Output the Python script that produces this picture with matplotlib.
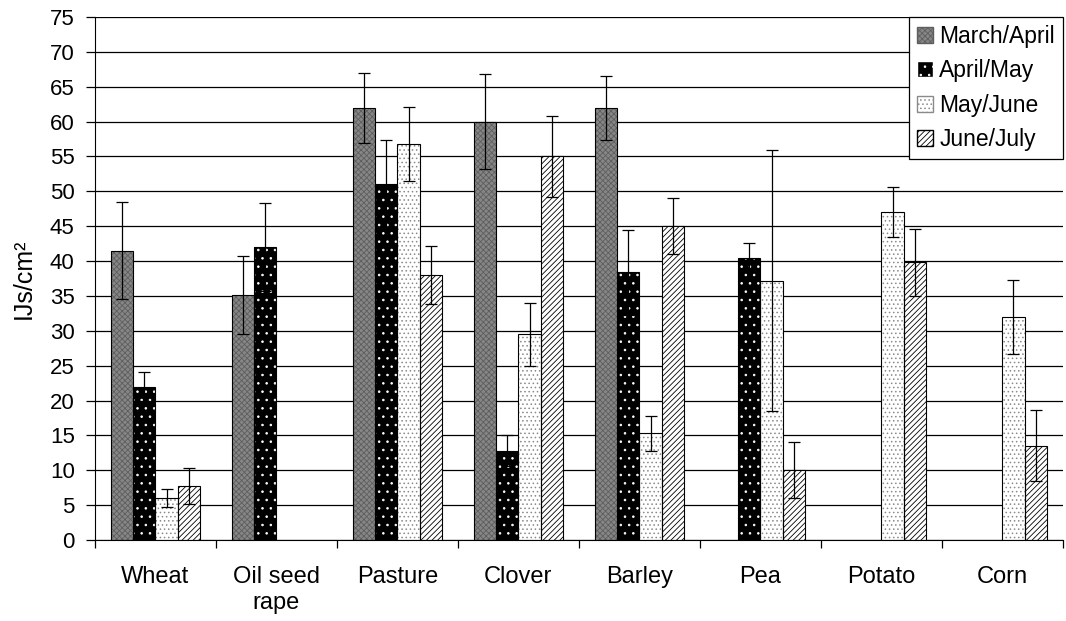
import numpy as np
import matplotlib
matplotlib.use("Agg")
import matplotlib.pyplot as plt
from matplotlib.patches import Patch

plt.rcParams['font.family'] = ['Liberation Sans', 'DejaVu Sans']
plt.rcParams['hatch.linewidth'] = 0.6

crops = ["Wheat", "Oil seed\nrape", "Pasture", "Clover", "Barley", "Pea", "Potato", "Corn"]
periods = ["March/April", "April/May", "May/June", "June/July"]

# nan = no measurement
mar_apr = [41.5, 35.2, 62.0, 60.0, 62.0, np.nan, np.nan, np.nan]
apr_may = [22.0, 42.0, 51.0, 12.8, 38.4, 40.5, np.nan, np.nan]
may_jun = [6.0, np.nan, 56.8, 29.5, 15.3, 37.2, 47.0, 32.0]
jun_jul = [7.7, np.nan, 38.0, 55.0, 45.0, 10.0, 39.8, 13.5]

err_mar_apr = [7.0, 5.6, 5.0, 6.8, 4.6, 0, 0, 0]
err_apr_may = [2.1, 6.3, 6.3, 2.2, 6.1, 2.1, 0, 0]
err_may_jun = [1.3, 0, 5.3, 4.5, 2.5, 18.7, 3.6, 5.3]
err_jun_jul = [2.6, 0, 4.2, 5.8, 4.0, 4.0, 4.8, 5.1]

values = [mar_apr, apr_may, may_jun, jun_jul]
errors = [err_mar_apr, err_apr_may, err_may_jun, err_jun_jul]

# face, hatch, hatch colour
styles = [("#868686", "xxxxxx", "#5e5e5e"),
          ("#000000", "..", "#ffffff"),
          ("#ffffff", "....", "#8a8a8a"),
          ("#ffffff", "//////", "#000000")]

fig = plt.figure(figsize=(10.66, 6.21), dpi=100)
ax = fig.add_axes([0.089, 0.1304, 0.908, 0.8422])

x = np.arange(len(crops))
w = 0.185
for i, (vals, errs) in enumerate(zip(values, errors)):
    v = np.array(vals, dtype=float)
    e = np.array(errs, dtype=float)
    ok = ~np.isnan(v)
    pos = x[ok] + (i - 1.5) * w
    face, hatch, hc = styles[i]
    ax.bar(pos, v[ok], w, color=face, edgecolor=hc, hatch=hatch, linewidth=0, zorder=2)
    ax.bar(pos, v[ok], w, fill=False, edgecolor="black", linewidth=0.8, zorder=3)
    ax.errorbar(pos, v[ok], yerr=e[ok], fmt="none", ecolor="black",
                elinewidth=0.9, capsize=4, capthick=0.9, zorder=4)

ax.set_ylim(0, 75)
ax.set_xlim(-0.5, len(crops) - 0.5)
ax.set_yticks(np.arange(0, 76, 5))
ax.yaxis.grid(True, color="black", linewidth=0.9)
ax.set_axisbelow(True)
ax.set_xticks(x)
ax.set_xticklabels(crops, fontsize=17)
ax.set_xticks(np.arange(-0.5, len(crops)), minor=True)
ax.tick_params(axis="x", which="major", length=0, pad=19)
ax.tick_params(axis="x", which="minor", length=6, width=0.9, direction="out")
ax.tick_params(axis="y", labelsize=16, length=6.5, width=0.9, direction="out", pad=8)
for s in ["top", "right"]:
    ax.spines[s].set_visible(False)
ax.set_ylabel("IJs/cm²", fontsize=18, labelpad=10)

handles = [Patch(facecolor=f, edgecolor=h, hatch=ht) for f, ht, h in styles]
leg = ax.legend(handles, periods, loc="upper right", fontsize=16.5, frameon=True,
                fancybox=False, edgecolor="black", framealpha=1,
                borderaxespad=0, borderpad=0.35, handlelength=0.7, handleheight=0.7,
                handletextpad=0.25, labelspacing=0.5)
leg.get_frame().set_linewidth(0.9)
leg.set_zorder(5)

fig.savefig("out.png", dpi=100)
